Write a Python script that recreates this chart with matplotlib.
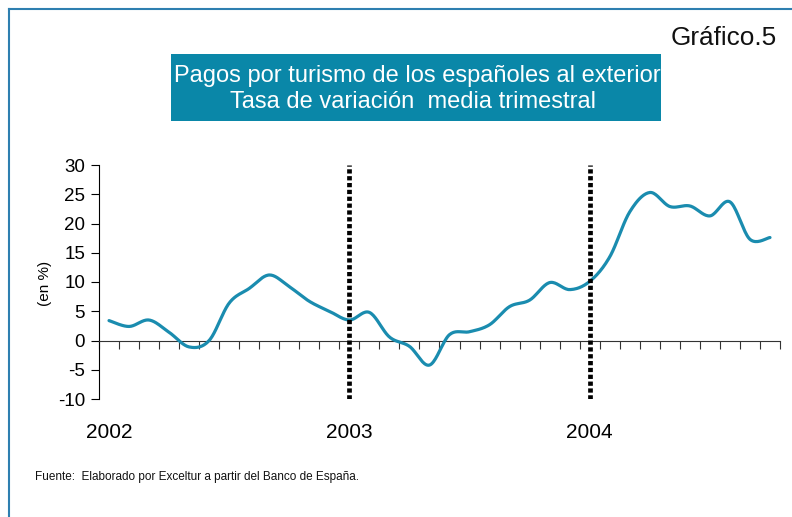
import numpy as np
import matplotlib
matplotlib.use("Agg")
import matplotlib.pyplot as plt
from matplotlib.patches import Rectangle
from matplotlib.lines import Line2D
import matplotlib.transforms as mtransforms

plt.rcParams['font.family'] = ['Liberation Sans', 'DejaVu Sans']

# ---- data (monthly, Jan 2002 - Oct 2004) ----
values = [3.4, 2.4, 3.5, 1.4, -1.1, 0.0, 6.4, 8.9, 11.2, 9.2, 6.7, 5.0,
          3.5, 4.8, 0.6, -1.0, -4.2, 1.0, 1.5, 2.7, 5.8, 6.9, 9.9, 8.7,
          10.1, 14.3, 22.0, 25.3, 22.9, 23.0, 21.3, 23.7, 17.3, 17.6]
year_labels = ["2002", "2003", "2004"]
year_index = [0, 12, 24]
yticks = [-10, -5, 0, 5, 10, 15, 20, 25, 30]

title_lines = ["Pagos por turismo de los españoles al exterior",
               "Tasa de variación  media trimestral"]

# ---- smoothing like Excel's smoothed line (Catmull-Rom Bezier) ----
def smooth(x, y, n=20):
    x = np.asarray(x, float); y = np.asarray(y, float)
    px = np.concatenate([[x[0]], x, [x[-1]]])
    py = np.concatenate([[y[0]], y, [y[-1]]])
    xs, ys = [], []
    t = np.linspace(0, 1, n, endpoint=False)
    for i in range(1, len(px) - 2):
        p0 = np.array([px[i], py[i]]); p3 = np.array([px[i+1], py[i+1]])
        p1 = p0 + (np.array([px[i+1], py[i+1]]) - np.array([px[i-1], py[i-1]])) / 6
        p2 = p3 - (np.array([px[i+2], py[i+2]]) - np.array([px[i], py[i]])) / 6
        b = ((1-t)**3)[:, None]*p0 + (3*(1-t)**2*t)[:, None]*p1 + (3*(1-t)*t**2)[:, None]*p2 + (t**3)[:, None]*p3
        xs.append(b[:, 0]); ys.append(b[:, 1])
    xs.append([x[-1]]); ys.append([y[-1]])
    return np.concatenate(xs), np.concatenate(ys)

W, H = 792, 517
fig = plt.figure(figsize=(W/100, H/100), dpi=100)

# frame lines (top and left)
fig.add_artist(Line2D([9/W, 1], [1-9/H, 1-9/H], color='#2e7fb0', lw=1.5))
fig.add_artist(Line2D([9/W, 9/W], [0, 1-9/H], color='#2e7fb0', lw=1.5))

# title box
fig.add_artist(Rectangle((171/W, 1-121/H), (661-171)/W, (121-54)/H,
                         facecolor='#0a87a8', edgecolor='none'))
fig.text(417/W, 1-76/H, title_lines[0], color='white', fontsize=17,
         ha='center', va='center')
fig.text(413/W, 1-102/H, title_lines[1], color='white', fontsize=17,
         ha='center', va='center')
fig.text(777/W, 1-38/H, "Gráfico.5", color='#111111', fontsize=18.8,
         ha='right', va='center')
fig.text(35/W, 1-477/H, "Fuente:  Elaborado por Exceltur a partir del Banco de España.",
         fontsize=8.5, ha='left', va='center', color='#111111')

ax = fig.add_axes([99/W, 1-399/H, (780-99)/W, (399-165)/H])
x = np.arange(len(values))
sx, sy = smooth(x, values)
ax.plot(sx, sy, color='#1a8caf', lw=2.3, solid_capstyle='round', zorder=3)

for yi in year_index[1:]:
    ax.plot([yi, yi], [-10, 30], color='black', lw=3.4,
            linestyle=(0, (0.9, 0.55)), zorder=4)

ax.set_xlim(-0.5, len(values) - 0.5)
ax.set_ylim(-10, 30)
ax.set_yticks(yticks)
ax.set_yticklabels([str(v) for v in yticks], fontsize=13.5)
ax.tick_params(axis='y', length=6, width=0.8, pad=4, direction='out')

ax.spines['top'].set_visible(False)
ax.spines['right'].set_visible(False)
ax.spines['bottom'].set_position(('data', 0))
ax.spines['left'].set_linewidth(0.8)
ax.spines['bottom'].set_linewidth(0.8)
ax.spines['bottom'].set_color('#333333')
ax.set_xticks(np.arange(-0.5, len(values), 1))
ax.set_xticklabels([])
ax.tick_params(axis='x', length=6, width=0.8, direction='out', color='#333333')

trans = mtransforms.blended_transform_factory(ax.transData, fig.transFigure)
for yi, lab in zip(year_index, year_labels):
    ax.text(yi, 1-433/H, lab, transform=trans, fontsize=15, ha='center', va='center')

fig.text(45/W, 1-283/H, "(en %)", rotation=90, fontsize=11, ha='center', va='center')

fig.savefig("out.png", dpi=100)
